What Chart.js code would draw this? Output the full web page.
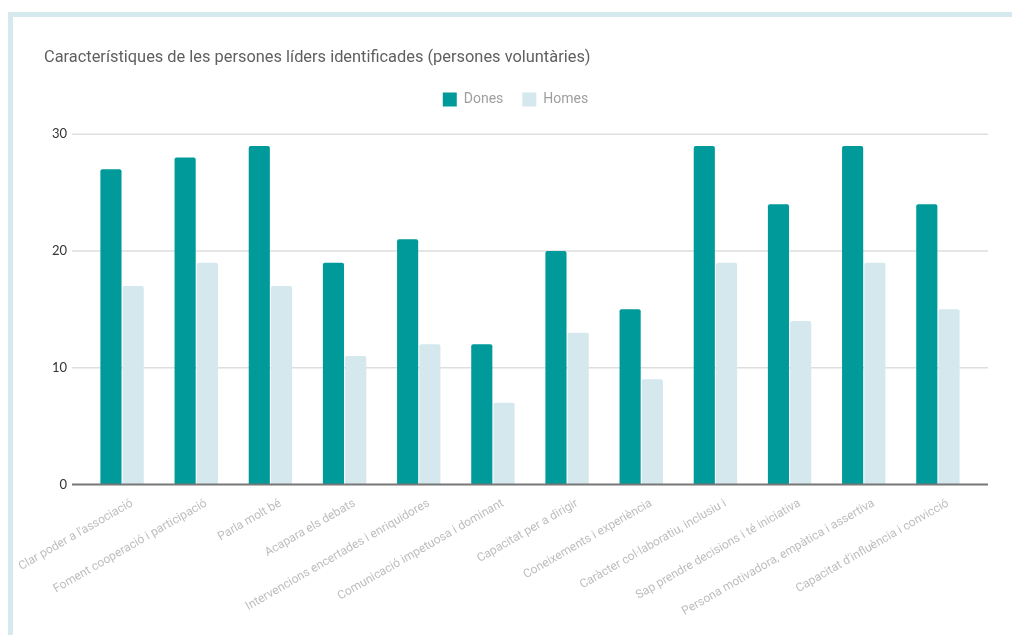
<!DOCTYPE html>
<html>
<head>
<meta charset="utf-8">
<script src="https://cdn.jsdelivr.net/npm/chart.js@4"></script>
<style>
  html, body { margin: 0; padding: 0; background: #fff; }
  #wrap { position: relative; width: 1012px; height: 635px; overflow: hidden; }
  #myChart { position: absolute; left: 0; top: 0; }
  .frameTop { position: absolute; left: 8px; top: 12px; width: 1004px; height: 5px; background: #d6e9ef; }
  .frameLeft { position: absolute; left: 8px; top: 12px; width: 5px; height: 623px; background: #d6e9ef; }
</style>
</head>
<body>
<div id="wrap">
  <canvas id="myChart" width="1012" height="635"></canvas>
  <div class="frameTop"></div>
  <div class="frameLeft"></div>
</div>
<script>
// Dades del gràfic
const categories = [
  "Clar poder a l'associació",
  "Foment cooperació i participació",
  "Parla molt bé",
  "Acapara els debats",
  "Intervencions encertades i enriquidores",
  "Comunicació impetuosa i dominant",
  "Capacitat per a dirigir",
  "Coneixements i experiència",
  "Caràcter col·laboratiu, inclusiu i",
  "Sap prendre decisions i té iniciativa",
  "Persona motivadora, empàtica i assertiva",
  "Capacitat d'influència i convicció"
];
const dones = [27, 28, 29, 19, 21, 12, 20, 15, 29, 24, 29, 24];
const homes = [17, 19, 17, 11, 12, 7, 13, 9, 19, 14, 19, 15];
const yTicks = [0, 10, 20, 30];

// Línies horitzontals una mica més llargues que l'àrea del gràfic
const gridLines = {
  id: 'gridLines',
  beforeDatasetsDraw(chart) {
    const { ctx, chartArea, scales } = chart;
    ctx.save();
    ctx.strokeStyle = '#dedede';
    ctx.lineWidth = 1.5;
    yTicks.forEach(v => {
      if (v === 0) return;
      const y = scales.y.getPixelForValue(v);
      ctx.beginPath();
      ctx.moveTo(chartArea.left - 13, y);
      ctx.lineTo(chartArea.right + 13, y);
      ctx.stroke();
    });
    ctx.restore();
  },
  afterDatasetsDraw(chart) {
    const { ctx, chartArea, scales } = chart;
    const y = scales.y.getPixelForValue(0);
    ctx.save();
    ctx.strokeStyle = '#777';
    ctx.lineWidth = 2;
    ctx.beginPath();
    ctx.moveTo(chartArea.left - 13, y);
    ctx.lineTo(chartArea.right + 13, y);
    ctx.stroke();
    ctx.restore();
  }
};

// Espai extra sota la llegenda i petit desplaçament cap a la dreta
const legendSpace = {
  id: 'legendSpace',
  beforeInit(chart) {
    const fit = chart.legend.fit;
    chart.legend.fit = function () {
      fit.call(this);
      this.height += 17.8;
    };
  },
  afterLayout(chart) {
    chart.legend.left += 6;
    chart.legend.right += 6;
  }
};

let ctx = document.getElementById('myChart').getContext('2d');
let myChart = new Chart(ctx, {
  type: 'bar',
  data: {
    labels: categories,
    datasets: [{
      label: 'Dones',
      data: dones,
      backgroundColor: '#009a9b',
      borderWidth: 0,
      borderRadius: 2
    }, {
      label: 'Homes',
      data: homes,
      backgroundColor: '#d4e8ee',
      borderWidth: 0,
      borderRadius: 2
    }]
  },
  options: {
    responsive: false,
    animation: false,
    categoryPercentage: 0.6,
    barPercentage: 0.95,
    layout: { padding: { left: 44, right: 37, top: 48, bottom: 12 } },
    plugins: {
      title: {
        display: true,
        text: 'Característiques de les persones líders identificades (persones voluntàries)',
        align: 'start',
        color: '#5f5f5f',
        font: { family: 'Roboto', size: 16.4, weight: 'normal' },
        padding: { top: 0, bottom: 5.8 }
      },
      legend: {
        labels: {
          boxWidth: 14,
          boxHeight: 14,
          padding: 19,
          color: '#9e9e9e',
          font: { family: 'Roboto', size: 14 }
        }
      },
      tooltip: { enabled: false }
    },
    scales: {
      x: {
        grid: { display: false },
        border: { display: false },
        ticks: {
          minRotation: 30,
          maxRotation: 30,
          padding: 4,
          labelOffset: 10,
          color: '#bdbdbd',
          font: { family: 'Roboto', size: 12 }
        }
      },
      y: {
        min: 0,
        max: 30,
        afterFit(scale) { scale.width = 41; },
        afterBuildTicks(scale) { scale.ticks = yTicks.map(v => ({ value: v })); },
        grid: { display: false, drawTicks: false },
        border: { display: false },
        ticks: {
          padding: 18,
          color: '#333',
          font: { family: 'Lato', size: 13 }
        }
      }
    }
  },
  plugins: [gridLines, legendSpace]
});
</script>
</body>
</html>
